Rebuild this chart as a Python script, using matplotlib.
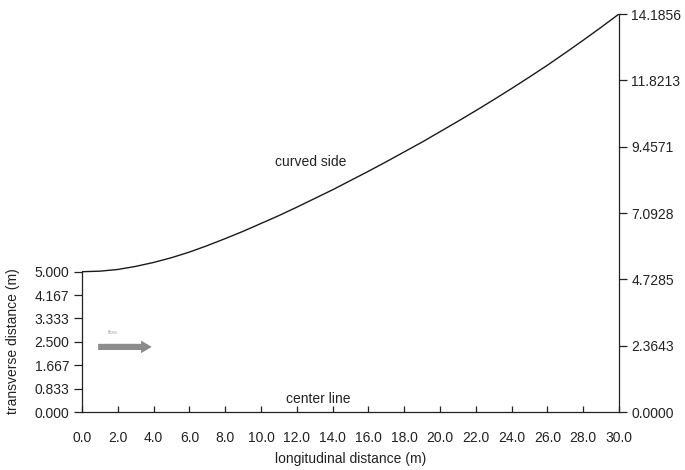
import matplotlib.pyplot as plt
import numpy as np

plt.rcParams['font.family'] = ['Liberation Sans', 'DejaVu Sans']

# longitudinal stations (m) and half-width of the curved side (m)
x_pos = [0, 1, 2, 3, 4, 5, 6, 7, 8, 9, 10, 11, 12, 13, 14, 15,
         16, 17, 18, 19, 20, 21, 22, 23, 24, 25, 26, 27, 28, 29, 30]
side_y = [5.000, 5.02, 5.08, 5.19, 5.33, 5.50, 5.70, 5.93, 6.18, 6.44,
          6.72, 7.00, 7.30, 7.61, 7.92, 8.25, 8.58, 8.92, 9.27, 9.62,
          9.99, 10.36, 10.74, 11.13, 11.53, 11.94, 12.36, 12.80, 13.25,
          13.71, 14.1856]

x_ticks = [0, 2, 4, 6, 8, 10, 12, 14, 16, 18, 20, 22, 24, 26, 28, 30]
left_ticks = [0.000, 0.833, 1.667, 2.500, 3.333, 4.167, 5.000]
right_ticks = [0.0000, 2.3643, 4.7285, 7.0928, 9.4571, 11.8213, 14.1856]

fig = plt.figure(figsize=(6.85, 4.7), dpi=100)
ax = fig.add_axes([0.1197, 0.1234, 0.7839, 0.8468])
ax.set_xlim(0, 30)
ax.set_ylim(0, 14.1856)

ax.plot(x_pos, side_y, color='#1a1a1a', lw=1.0)

# left axis only covers the channel inlet half-width
ax.spines['top'].set_visible(False)
ax.spines['right'].set_visible(False)
ax.spines['left'].set_bounds(0, 5)
for s in ['left', 'bottom']:
    ax.spines[s].set_linewidth(0.9)
    ax.spines[s].set_color('#222222')

ax.set_xticks(x_ticks)
ax.set_xticklabels(['%.1f' % v for v in x_ticks])
ax.set_yticks(left_ticks)
ax.set_yticklabels(['%.3f' % v for v in left_ticks])
ax.tick_params(axis='x', direction='in', length=4, width=0.9, pad=14,
               labelsize=10, colors='#222222')
ax.tick_params(axis='y', direction='out', length=6, width=0.9, pad=3,
               labelsize=10, colors='#222222')

ax2 = ax.twinx()
ax2.set_ylim(0, 14.1856)
for s in ['top', 'left', 'bottom']:
    ax2.spines[s].set_visible(False)
ax2.spines['right'].set_linewidth(0.9)
ax2.spines['right'].set_color('#222222')
ax2.set_yticks(right_ticks)
ax2.set_yticklabels(['%.4f' % v for v in right_ticks])
ax2.tick_params(axis='y', direction='out', length=6, width=0.9, pad=3,
                labelsize=10, colors='#222222')

ax.set_xlabel('longitudinal distance (m)', fontsize=10, color='#222222',
              labelpad=5)
fig.text(0.019, 0.274, 'transverse distance (m)', rotation=90, fontsize=10,
         color='#222222', ha='center', va='center')

ax.text(12.8, 8.91, 'curved side', fontsize=10, color='#222222',
        ha='center', va='center')
ax.text(13.2, 0.46, 'center line', fontsize=10, color='#222222',
        ha='center', va='center')

# flow direction marker
ax.arrow(0.9, 2.32, 2.4, 0, width=0.22, head_width=0.45, head_length=0.6,
         color='#8c8c8c', length_includes_head=False, lw=0)
ax.text(1.75, 2.82, 'flow', fontsize=4, color='#aaaaaa',
        ha='center', va='center')

fig.savefig('out.png', dpi=100)
